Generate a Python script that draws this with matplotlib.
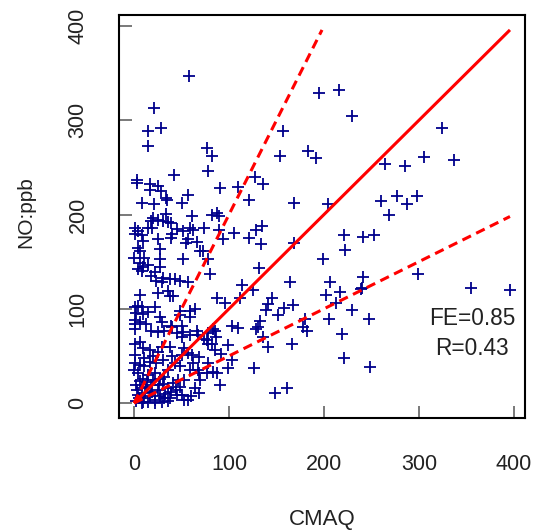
import matplotlib
matplotlib.use("Agg")
import matplotlib.pyplot as plt
import numpy as np

plt.rcParams['font.family'] = ['Liberation Sans', 'DejaVu Sans']

# CMAQ (model) values
cmaq = [58, 21, 15, 28, 15, 77, 82, 157, 154, 183, 192, 195, 216, 230, 324, 264, 285, 305, 337,
        3, 3, 42, 78, 127, 136, 91, 109, 121, 168, 17, 17, 25, 28, 34, 8, 21, 35, 51, 57, 61,
        82, 87, 89, 20, 34, 18, 25, 31, 36, 39, 1, 15, 19, 59, 74, 4, 45, 52, 62, 9,
        25, 39, 57, 66, 4, 6, 27, 69, 0, 11, 27, 52, 78, 15, 9, 4, 8, 27, 22, 18,
        31, 38, 43, 48, 23, 29, 57, 80, 36, 25, 41, 38, 6, 87, 4, 8, 22, 2, 9, 15,
        64, 27, 48, 1, 6, 29, 59, 1, 6, 1, 1, 1, 1, 1, 0,
        89, 94, 105, 121, 129, 135, 134, 169, 132, 164, 114, 125, 112, 96, 145, 141, 139, 158, 167, 152,
        133, 131, 128, 103, 109, 85, 83, 86, 136, 141, 99, 82, 166, 180, 178, 182, 92, 103, 99, 126,
        83, 87, 91, 148, 161,
        204, 260, 277, 288, 298, 269, 221, 241, 253, 222, 199, 299, 241, 206, 202, 217, 239, 240, 213, 230,
        205, 248, 219, 221, 249, 355, 396,
        13, 18, 25, 32, 39, 45, 52, 67, 74, 78, 6, 9, 17, 25, 29, 53, 57, 85, 1, 6,
        11, 17, 23, 43, 48, 36, 62, 67, 78, 4, 9, 15, 22, 27, 32, 46, 53, 64, 2, 8,
        13, 18, 25, 36, 39, 4, 11, 17, 22, 27, 32, 8, 15, 22, 29, 36, 53, 45, 2, 9,
        57, 68, 77, 68, 69, 59, 48, 38, 66, 59, 50, 77, 78, 68, 61, 50, 38, 59, 48, 40,
        50, 8, 40, 55, 73,
        5, 12, 19, 6, 30, 41, 20, 44, 50, 60, 14, 3, 26, 33, 10, 20, 31, 40]

# Observed NO (ppb)
no_ppb = [347, 313, 289, 292, 273, 271, 262, 289, 262, 267, 260, 329, 332, 305, 292, 254, 252, 261, 258,
          237, 234, 242, 246, 240, 233, 228, 229, 216, 212, 232, 226, 230, 225, 218, 212, 211, 216, 212, 221, 199,
          200, 202, 199, 196, 201, 193, 194, 193, 192, 191, 186, 186, 186, 186, 186, 183, 185, 183, 184, 172,
          174, 175, 174, 171, 165, 161, 163, 161, 154, 154, 153, 153, 153, 147, 144, 142, 140, 144, 139, 135,
          133, 132, 132, 130, 130, 128, 128, 137, 119, 117, 114, 114, 115, 111, 103, 102, 102, 96, 95, 97,
          100, 91, 93, 88, 86, 86, 91, 179, 149, 102, 84, 79, 63, 51, 35,
          184, 174, 180, 175, 184, 188, 169, 170, 143, 128, 125, 120, 112, 106, 112, 105, 99, 101, 104, 93,
          87, 81, 79, 82, 80, 76, 79, 70, 70, 60, 62, 63, 63, 89, 81, 77, 52, 46, 37, 37,
          33, 32, 19, 11, 16,
          211, 214, 220, 211, 220, 200, 178, 176, 178, 162, 153, 137, 134, 129, 115, 118, 121, 122, 106, 99,
          89, 89, 73, 48, 38, 122, 120,
          84, 77, 75, 77, 82, 74, 75, 72, 68, 74, 65, 58, 56, 54, 60, 58, 53, 56, 42, 40,
          39, 44, 42, 42, 39, 35, 42, 35, 42, 32, 26, 30, 32, 26, 28, 25, 25, 16, 19, 16,
          17, 19, 14, 16, 12, 9, 5, 7, 3, 7, 5, 0, 1, 0, 1, 2, 3, 9, 2, 1,
          3, 11, 32, 32, 25, 35, 17, 5, 77, 72, 70, 67, 63, 49, 51, 51, 60, 98, 98, 81,
          82, 178, 179, 170, 161,
          5, 11, 12, 23, 20, 21, 24, 14, 9, 8, 22, 14, 19, 10, 48, 50, 46, 50]

# Reference lines: 1:1, 2:1 and 1:2
line_end = 396
fe_text = "FE=0.85"
r_text = "R=0.43"
ticks = [0, 100, 200, 300, 400]

fig = plt.figure(figsize=(5.36, 5.31), dpi=100)
ax = fig.add_axes([119/536, 1 - 418/531, (525 - 119)/536, (418 - 15)/531])

ax.plot(cmaq, no_ppb, linestyle='none', marker='+', color='#00008B',
        markersize=8.5, markeredgewidth=1.3)

xs = np.array([0, line_end])
ax.plot(xs, xs, color='#FF0000', lw=2.2, solid_capstyle='butt')
xs2 = np.array([0, line_end / 2])
ax.plot(xs2, 2 * xs2, color='#FF0000', lw=2.2, dashes=(3.1, 1.9))
ax.plot(xs, 0.5 * xs, color='#FF0000', lw=2.2, dashes=(3.1, 1.9))

ax.text(356, 90, fe_text, ha='center', va='center', fontsize=16.3, color='#222222')
ax.text(356, 58, r_text, ha='center', va='center', fontsize=16.3, color='#222222')

rng = line_end
lim = (-0.04 * rng, line_end + 0.04 * rng)
ax.set_xlim(lim)
ax.set_ylim(lim)
ax.set_xticks(ticks)
ax.set_yticks(ticks)
ax.set_xticklabels([str(t) for t in ticks])
ax.set_yticklabels([str(t) for t in ticks])
ax.tick_params(axis='both', direction='in', length=9, width=1.1, color='#555555',
               labelsize=15.5, labelcolor='#222222')
ax.tick_params(axis='x', pad=26)
ax.tick_params(axis='y', pad=22, labelrotation=90)
for lab in ax.get_yticklabels():
    lab.set_va('center')

for sp in ax.spines.values():
    sp.set_linewidth(1.5)
    sp.set_color('black')

fig.text(322/536, 1 - 519/531, "CMAQ", ha='center', va='center', fontsize=16, color='#222222')
fig.text(26/536, 1 - 212/531, "NO:ppb", ha='center', va='center', rotation=90, fontsize=15, color='#222222')

fig.savefig("out.png", dpi=100)
